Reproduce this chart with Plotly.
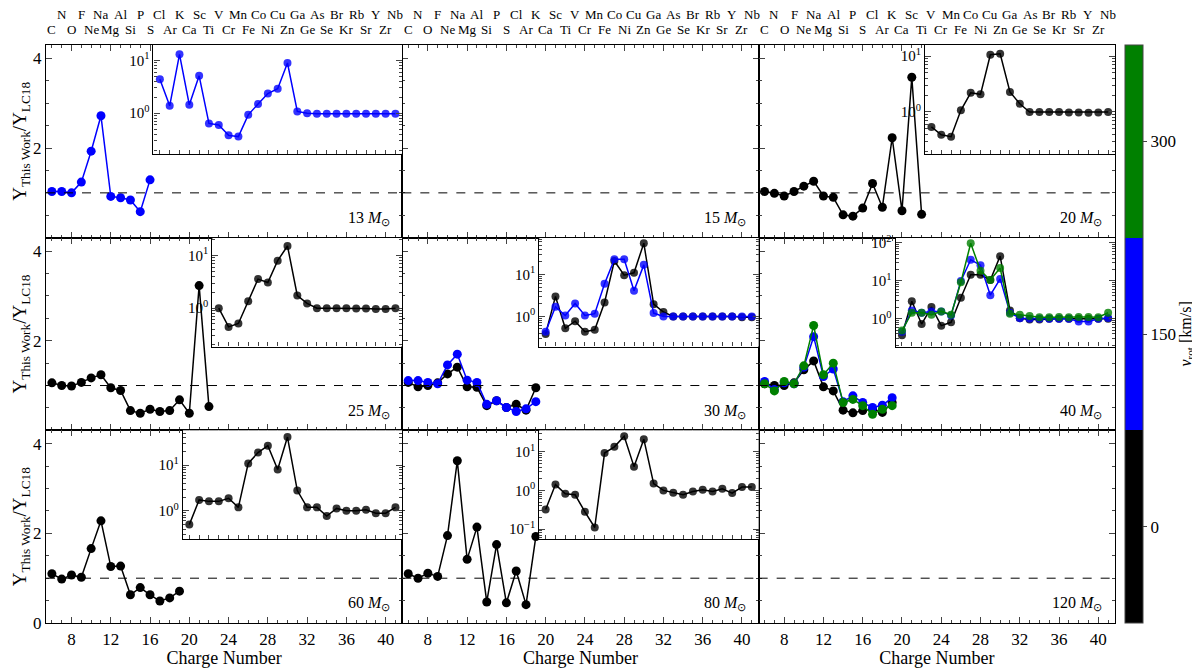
import plotly.graph_objects as go

# element symbols for the two label rows on top
even_syms = ["C", "O", "Ne", "Mg", "Si", "S", "Ar", "Ca", "Ti", "Cr", "Fe", "Ni", "Zn", "Ge", "Se", "Kr", "Sr", "Zr"]
odd_syms = ["N", "F", "Na", "Al", "P", "Cl", "K", "Sc", "V", "Mn", "Co", "Cu", "Ga", "As", "Br", "Rb", "Y", "Nb"]

masses = [13, 15, 20, 25, 30, 40, 60, 80, 120]

# main panel ratios (linear), Z from 6
m13_blue = [1.03, 1.03, 1.0, 1.24, 1.93, 2.72, 0.92, 0.89, 0.84, 0.58, 1.29]
m20_black = [1.03, 0.99, 0.93, 1.03, 1.15, 1.26, 0.93, 0.9, 0.51, 0.48, 0.66, 1.21, 0.68, 2.23, 0.6, 3.58, 0.52]
m25_black = [1.06, 1.0, 0.99, 1.07, 1.17, 1.24, 0.95, 0.89, 0.44, 0.38, 0.47, 0.42, 0.44, 0.68, 0.38, 3.23, 0.53]
m30_black = [1.07, 0.97, 1.0, 1.06, 1.26, 1.41, 0.97, 0.96, 0.55, 0.66, 0.51, 0.58, 0.45, 0.95]
m30_blue = [1.11, 1.11, 1.07, 1.04, 1.46, 1.7, 1.12, 1.07, 0.58, 0.66, 0.51, 0.42, 0.48, 0.64]
m40_black = [1.04, 1.0, 1.0, 1.06, 1.35, 1.55, 0.97, 0.88, 0.45, 0.39, 0.44, 0.47, 0.4, 0.62]
m40_blue = [1.09, 0.91, 1.06, 1.04, 1.41, 2.09, 1.2, 1.37, 0.64, 0.77, 0.62, 0.51, 0.56, 0.73]
m40_green = [1.04, 0.88, 1.09, 1.04, 1.44, 2.34, 1.24, 1.5, 0.62, 0.69, 0.55, 0.36, 0.47, 0.55]
m60_black = [1.1, 0.98, 1.07, 1.02, 1.66, 2.28, 1.26, 1.27, 0.63, 0.79, 0.63, 0.49, 0.56, 0.71]
m80_black = [1.1, 1.0, 1.11, 1.04, 1.95, 3.62, 1.42, 2.14, 0.47, 1.75, 0.45, 1.16, 0.41, 1.93]

# inset ratios (log), Z from start to 41
i13_blue = [4.4, 1.38, 13, 1.44, 5.1, 0.64, 0.6, 0.38, 0.36, 0.93, 1.49, 2.35, 2.9, 8.9, 1.08,
            1.0, 0.98, 0.98, 0.98, 0.98, 0.98, 0.98, 0.98, 0.98, 0.98]
i20_black = [0.54, 0.39, 0.36, 1.07, 2.2, 2.07, 10.6, 11, 2.28, 1.4, 1.0, 1.0, 1.0, 1.0, 0.98, 0.98, 0.97, 0.98, 1.0]
i25_black = [1.0, 0.44, 0.51, 1.35, 3.57, 3.07, 8.0, 15.2, 1.74, 1.23, 1.0, 1.0, 1.0, 1.0, 0.98, 0.98, 0.96, 0.96, 1.0]
i30_black = [0.38, 3.0, 0.52, 0.77, 0.43, 0.48, 2.15, 21, 9.6, 11, 56, 1.96, 1.27,
             1.0, 1.0, 1.0, 1.0, 1.0, 1.0, 1.0, 0.95, 0.95]
i30_blue = [0.43, 1.69, 1.05, 2.04, 1.05, 1.16, 6.0, 23, 23, 4.1, 17, 1.2, 1.0,
            1.0, 1.0, 1.0, 1.0, 1.0, 1.0, 1.0, 1.0, 1.0]
i40_black = [0.37, 2.9, 0.73, 2.05, 0.66, 0.81, 3.6, 14.5, 14.5, 10.6, 45, 1.67, 1.04,
             0.96, 0.96, 1.0, 1.0, 1.0, 1.0, 1.0, 1.0, 1.0]
i40_blue = [0.46, 1.67, 1.45, 1.57, 1.57, 1.23, 10, 36, 26, 4.2, 11.3, 1.45, 1.04,
            1.0, 1.0, 1.0, 1.0, 1.0, 0.85, 0.85, 1.0, 1.05]
i40_green = [0.49, 1.45, 1.45, 1.28, 1.57, 1.28, 9.2, 98, 18.5, 10.6, 21.8, 1.36, 1.28,
             1.18, 1.1, 1.1, 1.12, 1.1, 1.12, 1.12, 1.1, 1.45]
i60_black = [0.5, 1.73, 1.61, 1.61, 1.88, 1.19, 10.9, 18.8, 26.5, 8.0, 41, 2.78, 1.19,
             1.19, 0.77, 1.13, 1.0, 1.0, 1.05, 0.89, 0.89, 1.19]
i80_black = [0.32, 1.41, 0.82, 0.77, 0.28, 0.11, 9.2, 13.3, 25, 4.1, 21, 1.5, 1.0,
             0.87, 0.77, 0.94, 1.04, 0.94, 1.1, 0.85, 1.22, 1.22]

BLK, BLU, GRN = "black", "#0000ff", "#008000"
main_series = {
    0: [(m13_blue, BLU)],
    2: [(m20_black, BLK)],
    3: [(m25_black, BLK)],
    4: [(m30_black, BLK), (m30_blue, BLU)],
    5: [(m40_black, BLK), (m40_blue, BLU), (m40_green, GRN)],
    6: [(m60_black, BLK)],
    7: [(m80_black, BLK)],
}
# panel -> (first Z, log range, series)
insets = {
    0: (17, [-0.77, 1.29], [(i13_blue, BLU)]),
    2: (23, [-0.75, 1.2], [(i20_black, BLK)]),
    3: (23, [-0.73, 1.34], [(i25_black, BLK)]),
    4: (20, [-0.72, 1.88], [(i30_black, BLK), (i30_blue, BLU)]),
    5: (20, [-0.73, 2.14], [(i40_black, BLK), (i40_blue, BLU), (i40_green, GRN)]),
    6: (20, [-0.62, 1.76], [(i60_black, BLK)]),
    7: (20, [-1.26, 1.55], [(i80_black, BLK)]),
}


def sfx(n):
    return "" if n == 1 else str(n)


XR = [5.4, 41.7]
FONT = "Liberation Serif"
fig = go.Figure()
layout = {}
shapes = []
annotations = []

for p in range(9):
    r, c = divmod(p, 3)
    n = p + 1
    s = sfx(n)
    xd = [c / 3, (c + 1) / 3]
    yd = [1 - (r + 1) / 3, 1 - r / 3]
    layout["xaxis" + s] = dict(
        domain=xd, range=XR, anchor="y" + s, tickmode="array", tickvals=list(range(8, 41, 4)),
        showticklabels=(r == 2), ticks="inside", ticklen=6, mirror="allticks", showline=True,
        linecolor="black", linewidth=1.2, showgrid=False, zeroline=False, tickfont=dict(size=17),
        minor=dict(dtick=1, ticks="inside", ticklen=3, tick0=0),
        title=dict(text="Charge Number" if r == 2 else "", standoff=0, font=dict(size=18)),
    )
    yticks = [0, 2, 4] if r == 2 else [2, 4]
    layout["yaxis" + s] = dict(
        domain=yd, range=[0, 4.3], anchor="x" + s, tickmode="array", tickvals=yticks,
        showticklabels=(c == 0), ticks="inside", ticklen=6, mirror="allticks", showline=True,
        linecolor="black", linewidth=1.2, showgrid=False, zeroline=False, tickfont=dict(size=17),
        minor=dict(tickvals=[0, 0.5, 1, 1.5, 2.5, 3, 3.5], ticks="inside", ticklen=3),
        title=dict(text="Y<sub>This Work</sub>/Y<sub>LC18</sub>" if c == 0 else "", standoff=0,
                   font=dict(size=19)),
    )
    shapes.append(dict(type="line", xref="x%s domain" % s, yref="y" + s, x0=0, x1=1, y0=1, y1=1,
                       line=dict(color="black", width=1, dash="dash")))
    annotations.append(dict(text="%d <i>M</i><sub>⊙</sub>" % masses[p], xref="x%s domain" % s,
                            yref="y%s domain" % s, x=0.97, y=0.04, xanchor="right", yanchor="bottom",
                            showarrow=False, font=dict(size=16)))
    for vals, col in main_series.get(p, []):
        fig.add_trace(go.Scatter(x=list(range(6, 6 + len(vals))), y=vals, xaxis="x" + s, yaxis="y" + s,
                                 mode="lines+markers", line=dict(color=col, width=1.5),
                                 marker=dict(color=col, size=9), showlegend=False))
    if r == 0:
        for k, sym in enumerate(even_syms):
            annotations.append(dict(text=sym, xref="x" + s, yref="paper", x=6 + 2 * k, y=1, yshift=6,
                                    yanchor="bottom", showarrow=False, font=dict(size=13)))
        for k, sym in enumerate(odd_syms):
            annotations.append(dict(text=sym, xref="x" + s, yref="paper", x=7 + 2 * k, y=1, yshift=21,
                                    yanchor="bottom", showarrow=False, font=dict(size=13)))

ni = 10
for p, (z0, yr, series) in insets.items():
    r, c = divmod(p, 3)
    left = z0 - 0.65
    x0 = c / 3 + (left - XR[0]) / (XR[1] - XR[0]) / 3
    yd = [1 - (r + 1) / 3 + 0.435 / 3, 1 - r / 3]
    layout["xaxis%d" % ni] = dict(
        domain=[x0, (c + 1) / 3], range=[left, XR[1]], anchor="y%d" % ni, showticklabels=False,
        ticks="inside", ticklen=4, dtick=1, tick0=0, mirror=True, showline=True, linecolor="black",
        linewidth=1.2, showgrid=False, zeroline=False,
    )
    layout["yaxis%d" % ni] = dict(
        domain=yd, type="log", range=yr, anchor="x%d" % ni, tickvals=[0.1, 1, 10, 100],
        ticktext=["10<sup>−1</sup>", "10<sup>0</sup>", "10<sup>1</sup>", "10<sup>2</sup>"],
        ticks="inside", ticklen=6, mirror="allticks", showline=True, linecolor="black",
        linewidth=1.2, showgrid=False, zeroline=False, tickfont=dict(size=15),
        minor=dict(ticks="inside", ticklen=3, tickvals=[a * 10 ** e for e in (-2, -1, 0, 1) for a in range(2, 10)]),
    )
    shapes.append(dict(type="line", xref="x%d domain" % ni, yref="y%d" % ni, x0=0, x1=1, y0=0, y1=0,
                       line=dict(color="#555", width=1, dash="dot")))
    for vals, col in series:
        fig.add_trace(go.Scatter(x=list(range(z0, z0 + len(vals))), y=vals, xaxis="x%d" % ni, yaxis="y%d" % ni,
                                 mode="lines+markers", line=dict(color=col, width=1.5),
                                 marker=dict(color=col, size=8, opacity=0.8), showlegend=False))
    ni += 1

# colorbar for rotation velocity
fig.add_trace(go.Scatter(
    x=[None], y=[None], xaxis="x9", yaxis="y9", mode="markers", showlegend=False,
    marker=dict(color=[0], cmin=-75, cmax=375, showscale=True,
                colorscale=[[0, BLK], [1 / 3, BLK], [1 / 3, BLU], [2 / 3, BLU], [2 / 3, GRN], [1, GRN]],
                colorbar=dict(x=1.0, xanchor="left", y=0.5, len=1, lenmode="fraction", thickness=18,
                              ypad=0, tickvals=[0, 150, 300], ticks="outside", ticklen=4, outlinewidth=1,
                              tickfont=dict(size=17))),
))
annotations.append(dict(text="<i>v</i><sub>rot</sub> [km/s]", xref="paper", yref="paper", x=1.066, y=0.5,
                        xanchor="center", yanchor="middle", textangle=-90, showarrow=False,
                        font=dict(size=16)))

fig.update_layout(
    **layout, shapes=shapes, annotations=annotations,
    width=1200, height=669, margin=dict(l=38, r=93, t=37, b=54, autoexpand=False),
    paper_bgcolor="white", plot_bgcolor="white",
    font=dict(family=FONT, size=16, color="black"),
)
fig.write_html("out.html")
